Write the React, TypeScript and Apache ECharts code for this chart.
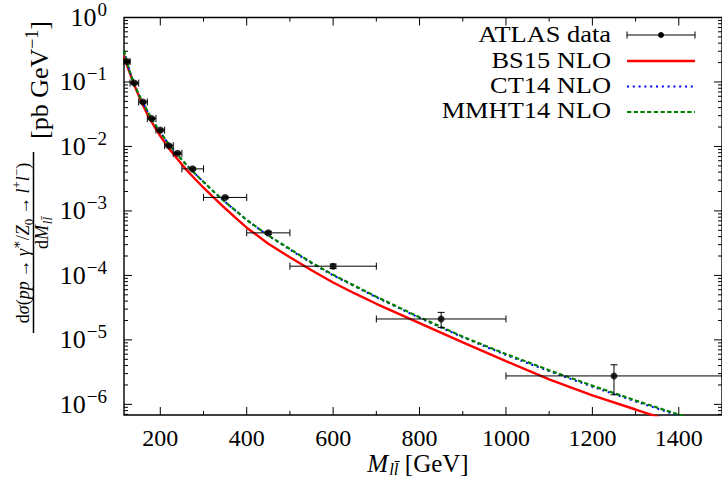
import { useEffect, useRef } from 'react';
import * as echarts from 'echarts';

const SERIF = '"Liberation Serif", "DejaVu Serif", serif';

// ATLAS 8 TeV high-mass Drell–Yan measurement: bins [GeV] and dσ/dM [pb/GeV]
const binLow = [116, 130, 150, 170, 190, 210, 230, 250, 300, 400, 500, 700, 1000];
const binHigh = [130, 150, 170, 190, 210, 230, 250, 300, 400, 500, 700, 1000, 1500];
const binCentre = [123, 140, 160, 180, 200, 220, 240, 275, 350, 450, 600, 850, 1250];
const atlasValue = [0.2075, 0.0961, 0.049, 0.0271, 0.0179, 0.01027, 0.00782, 0.00449, 0.00162, 4.57e-4, 1.39e-4, 2.11e-5, 2.76e-6];
const atlasError = [0.008, 0.0038, 0.0019, 0.0011, 0.0007, 0.0004, 0.0003, 0.00018, 0.00007, 0.000025, 0.000011, 0.0000056, 0.00000135];

// NLO predictions on a common mass grid [GeV]
const massGrid = [116, 120, 125, 130, 140, 150, 160, 170, 180, 190, 200, 220, 240, 260, 280, 300, 325, 350, 375, 400, 450, 500, 550, 600, 650, 700, 800, 900, 1000, 1100, 1200, 1300, 1400, 1500];
const bs15 = [0.257, 0.209, 0.166, 0.135, 0.0891, 0.0617, 0.0437, 0.0316, 0.024, 0.0186, 0.0145, 0.00933, 0.00631, 0.00437, 0.00316, 0.00229, 0.00158, 0.0011, 7.76e-4, 5.5e-4, 3.09e-4, 1.91e-4, 1.2e-4, 7.76e-5, 5.25e-5, 3.63e-5, 1.82e-5, 9.12e-6, 4.68e-6, 2.45e-6, 1.38e-6, 8.32e-7, 5.01e-7, 3.02e-7];
const ct14 = [0.305, 0.24, 0.182, 0.141, 0.0912, 0.0646, 0.0479, 0.0355, 0.0269, 0.0209, 0.0166, 0.0107, 0.00741, 0.00525, 0.0038, 0.00282, 0.00195, 0.00138, 0.001, 7.24e-4, 4.12e-4, 2.51e-4, 1.55e-4, 1.0e-4, 6.76e-5, 4.57e-5, 2.19e-5, 1.1e-5, 5.82e-6, 3.27e-6, 1.88e-6, 1.11e-6, 6.68e-7, 4.12e-7];
const mmht14 = [0.307, 0.24, 0.182, 0.141, 0.0912, 0.0646, 0.0479, 0.0355, 0.0269, 0.0209, 0.0166, 0.0107, 0.00741, 0.00525, 0.0038, 0.00282, 0.00195, 0.00138, 0.001, 7.24e-4, 4.17e-4, 2.57e-4, 1.58e-4, 1.02e-4, 6.92e-5, 4.68e-5, 2.24e-5, 1.12e-5, 6.03e-6, 3.39e-6, 1.95e-6, 1.15e-6, 6.92e-7, 4.27e-7];

// Axis ranges and tick positions
const xRange = [116, 1500];
const yRange = [6.84e-7, 1];
const xMajorTicks = [200, 400, 600, 800, 1000, 1200, 1400];
const xMinorTicks = [300, 500, 700, 900, 1100, 1300];
const yMajorTicks = [1e-6, 1e-5, 1e-4, 1e-3, 1e-2, 1e-1, 1];
const yMinorDecades = [1e-7, 1e-6, 1e-5, 1e-4, 1e-3, 1e-2, 1e-1];
const yMinorSteps = [2, 3, 4, 5, 6, 7, 8, 9];

const legendLabels = ['ATLAS data', 'BS15 NLO', 'CT14 NLO', 'MMHT14 NLO'];

const SUP_MINUS = '\u2212';

function buildOption() {
  const yMinorTicks: number[] = [];
  yMinorDecades.forEach((d) => yMinorSteps.forEach((s) => {
    const v = s * d;
    if (v > yRange[0] && v < yRange[1]) yMinorTicks.push(v);
  }));

  // [x, y, isMajor, orientation(0 = x tick, 1 = y tick)]
  const tickData: number[][] = [
    ...xMajorTicks.map((v) => [v, 1e-3, 1, 0]),
    ...xMinorTicks.map((v) => [v, 1e-3, 0, 0]),
    ...yMajorTicks.map((v) => [500, v, 1, 1]),
    ...yMinorTicks.map((v) => [500, v, 0, 1]),
  ];

  const errData = binCentre.map((c, i) => [c, atlasValue[i], binLow[i], binHigh[i], atlasError[i]]);

  const legendRows = [34, 59.5, 84.5, 109.5];
  const sampleRows = [35, 61, 86.5, 112];
  const sx0 = 627;
  const sx1 = 695;
  const textRight = 611;

  const graphic: any[] = [];
  legendLabels.forEach((label, i) => {
    graphic.push({
      type: 'text', x: textRight, y: legendRows[i], scaleX: 1.1, z: 20,
      style: { text: label, fontFamily: SERIF, fontSize: 24, fill: '#000', align: 'right', verticalAlign: 'middle' },
    });
  });
  // legend samples
  graphic.push(
    { type: 'line', z: 20, shape: { x1: sx0, y1: sampleRows[0], x2: sx1, y2: sampleRows[0] }, style: { stroke: '#000', lineWidth: 1 } },
    { type: 'line', z: 20, shape: { x1: sx0, y1: sampleRows[0] - 3.5, x2: sx0, y2: sampleRows[0] + 3.5 }, style: { stroke: '#000', lineWidth: 1 } },
    { type: 'line', z: 20, shape: { x1: sx1, y1: sampleRows[0] - 3.5, x2: sx1, y2: sampleRows[0] + 3.5 }, style: { stroke: '#000', lineWidth: 1 } },
    { type: 'circle', z: 20, shape: { cx: (sx0 + sx1) / 2, cy: sampleRows[0], r: 3 }, style: { fill: '#000' } },
    { type: 'line', z: 20, shape: { x1: sx0, y1: sampleRows[1], x2: sx1, y2: sampleRows[1] }, style: { stroke: '#ff0000', lineWidth: 2.5 } },
    { type: 'line', z: 20, shape: { x1: sx0, y1: sampleRows[2], x2: sx1, y2: sampleRows[2] }, style: { stroke: '#0000ff', lineWidth: 2, lineDash: [2, 3.8] } },
    { type: 'line', z: 20, shape: { x1: sx0, y1: sampleRows[3], x2: sx1, y2: sampleRows[3] }, style: { stroke: '#008000', lineWidth: 2.2, lineDash: [4.3, 2.4] } },
  );

  // x-axis title
  graphic.push({
    type: 'text', x: 418, y: 463, z: 20,
    style: {
      text: '{i|M}{sub|ll\u0304}{n| [GeV]}',
      align: 'center', verticalAlign: 'middle',
      rich: {
        i: { fontFamily: SERIF, fontSize: 25, fontStyle: 'italic', fill: '#000' },
        sub: { fontFamily: SERIF, fontSize: 17, fontStyle: 'italic', fill: '#000', padding: [12, 0, 0, 1] },
        n: { fontFamily: SERIF, fontSize: 25, fill: '#000' },
      },
    },
  });

  // y-axis title: fraction plus units, rotated
  const mathRich = (size: number, small: number) => ({
    n: { fontFamily: SERIF, fontSize: size, fill: '#000' },
    i: { fontFamily: SERIF, fontSize: size, fontStyle: 'italic', fill: '#000' },
    sup: { fontFamily: SERIF, fontSize: small, fill: '#000', padding: [0, 0, 14, 0] },
    sub: { fontFamily: SERIF, fontSize: small, fill: '#000', padding: [10, 0, 0, 0] },
    isub: { fontFamily: SERIF, fontSize: small, fontStyle: 'italic', fill: '#000', padding: [10, 0, 0, 1] },
  });
  graphic.push(
    {
      type: 'text', x: 23, y: 243, rotation: Math.PI / 2, z: 20,
      style: {
        text: '{n|d}{i|σ}{n|(}{i|pp}{n|\u2009→\u2009}{i|γ}{sup|∗}{n|/}{i|Z}{sub|0}{n|\u2009→\u2009}{i|l}{sup|+}{i|l}{sup|' + SUP_MINUS + '}{n|)}',
        align: 'center', verticalAlign: 'middle', rich: mathRich(18, 13),
      },
    },
    { type: 'line', z: 20, shape: { x1: 33.5, y1: 152, x2: 33.5, y2: 333 }, style: { stroke: '#000', lineWidth: 1.5 } },
    {
      type: 'text', x: 42, y: 233, rotation: Math.PI / 2, z: 20,
      style: { text: '{n|d}{i|M}{isub|ll\u0304}', align: 'center', verticalAlign: 'middle', rich: mathRich(18, 13) },
    },
    {
      type: 'text', x: 39, y: 80, rotation: Math.PI / 2, z: 20,
      style: { text: '{n|[pb GeV}{sup|' + SUP_MINUS + '1}{n|]}', align: 'center', verticalAlign: 'middle', rich: mathRich(26, 18) },
    },
  );

  const curve = (name: string, values: number[], z: number, lineStyle: any) => ({
    name, type: 'line', z, showSymbol: false, symbol: 'none', smooth: false,
    data: massGrid.map((m, i) => [m, values[i]]),
    lineStyle,
  });

  return {
    animation: false,
    backgroundColor: '#fff',
    textStyle: { fontFamily: SERIF },
    grid: { left: 124, top: 15, width: 602, height: 400, show: true, borderColor: '#000', borderWidth: 1.4, backgroundColor: 'transparent' },
    xAxis: {
      type: 'value', min: xRange[0], max: xRange[1],
      axisLine: { show: false }, axisTick: { show: false }, splitLine: { show: false },
      axisLabel: {
        customValues: xMajorTicks, fontFamily: SERIF, fontSize: 24, color: '#000', margin: 11,
        formatter: (v: number) => String(v),
      },
    },
    yAxis: {
      type: 'log', logBase: 10, min: yRange[0], max: yRange[1],
      axisLine: { show: false }, axisTick: { show: false }, splitLine: { show: false }, minorTick: { show: false },
      axisLabel: {
        margin: 17,
        formatter: (v: number) => {
          const e = Math.log10(v);
          const r = Math.round(e);
          if (Math.abs(e - r) > 1e-6) return '';
          return '{b|10}{s|' + (r < 0 ? SUP_MINUS + Math.abs(r) : String(r)) + '}';
        },
        rich: {
          b: { fontFamily: SERIF, fontSize: 26, color: '#000' },
          s: { fontFamily: SERIF, fontSize: 19, color: '#000', padding: [0, 0, 16, 1] },
        },
      },
    },
    graphic,
    series: [
      curve('BS15 NLO', bs15, 2, { color: '#ff0000', width: 2.4 }),
      curve('CT14 NLO', ct14, 3, { color: '#0000ff', width: 2, type: [2, 3.8], cap: 'butt' }),
      curve('MMHT14 NLO', mmht14, 4, { color: '#008000', width: 2.2, type: [4.3, 2.4], cap: 'butt' }),
      {
        name: 'ATLAS errors', type: 'custom', z: 5, silent: true,
        encode: { x: 0, y: 1 },
        data: errData,
        renderItem: (_params: any, api: any) => {
          const y = api.value(1);
          const err = api.value(4);
          const c = api.coord([api.value(0), y]);
          const lo = api.coord([api.value(2), y]);
          const hi = api.coord([api.value(3), y]);
          const top = api.coord([api.value(0), y + err]);
          const bot = api.coord([api.value(0), y - err]);
          const st = { stroke: '#000', lineWidth: 1 };
          const cap = 3.5;
          const seg = (x1: number, y1: number, x2: number, y2: number) => ({ type: 'line', shape: { x1, y1, x2, y2 }, style: st });
          return {
            type: 'group',
            children: [
              seg(lo[0], c[1], hi[0], c[1]),
              seg(lo[0], c[1] - cap, lo[0], c[1] + cap),
              seg(hi[0], c[1] - cap, hi[0], c[1] + cap),
              seg(c[0], top[1], c[0], bot[1]),
              seg(c[0] - cap, top[1], c[0] + cap, top[1]),
              seg(c[0] - cap, bot[1], c[0] + cap, bot[1]),
            ],
          };
        },
      },
      {
        name: 'ATLAS data', type: 'scatter', z: 6, symbol: 'circle', symbolSize: 7,
        itemStyle: { color: '#000' },
        data: binCentre.map((c, i) => [c, atlasValue[i]]),
      },
      {
        name: 'ticks', type: 'custom', z: 7, silent: true,
        encode: { x: 0, y: 1 },
        data: tickData,
        renderItem: (params: any, api: any) => {
          const cs = params.coordSys;
          const p = api.coord([api.value(0), api.value(1)]);
          const len = api.value(2) ? 8 : 4;
          const st = { stroke: '#000', lineWidth: 1 };
          if (api.value(3) === 0) {
            const b = cs.y + cs.height;
            return {
              type: 'group',
              children: [
                { type: 'line', shape: { x1: p[0], y1: b, x2: p[0], y2: b - len }, style: st },
                { type: 'line', shape: { x1: p[0], y1: cs.y, x2: p[0], y2: cs.y + len }, style: st },
              ],
            };
          }
          const r = cs.x + cs.width;
          return {
            type: 'group',
            children: [
              { type: 'line', shape: { x1: cs.x, y1: p[1], x2: cs.x + len, y2: p[1] }, style: st },
              { type: 'line', shape: { x1: r, y1: p[1], x2: r - len, y2: p[1] }, style: st },
            ],
          };
        },
      },
    ],
  };
}

export default function App() {
  const ref = useRef<HTMLDivElement>(null);
  useEffect(() => {
    if (!ref.current) return;
    const chart = echarts.init(ref.current, undefined, { renderer: 'svg' });
    chart.setOption(buildOption() as any);
    return () => chart.dispose();
  }, []);
  return (
    <div
      ref={ref}
      style={{ position: 'absolute', left: 0, top: 0, width: 722, height: 489, background: '#fff' }}
    />
  );
}
